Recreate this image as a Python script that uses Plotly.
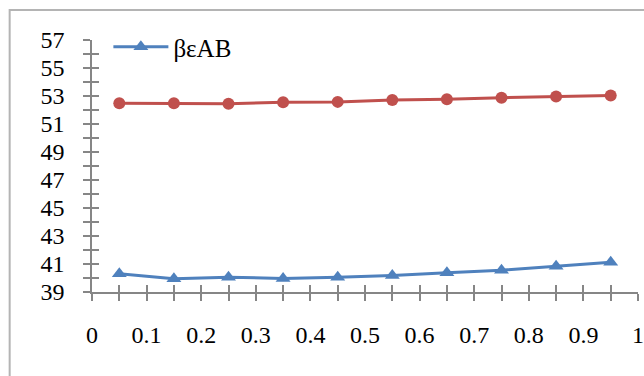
import plotly.graph_objects as go

# Data
x_vals = [0.05, 0.15, 0.25, 0.35, 0.45, 0.55, 0.65, 0.75, 0.85, 0.95]
beta_eps_ab = [40.30, 39.95, 40.05, 39.97, 40.05, 40.18, 40.37, 40.56, 40.84, 41.13]
upper_series = [52.49, 52.49, 52.45, 52.56, 52.58, 52.72, 52.77, 52.88, 52.96, 53.03]

# Axis ticks and labels
y_tick_vals = [39, 40, 41, 42, 43, 44, 45, 46, 47, 48, 49, 50, 51, 52, 53, 54, 55, 56, 57]
y_tick_text = ["39", "", "41", "", "43", "", "45", "", "47", "", "49", "", "51", "", "53", "", "55", "", "57"]
x_tick_vals = [0, 0.05, 0.1, 0.15, 0.2, 0.25, 0.3, 0.35, 0.4, 0.45, 0.5,
               0.55, 0.6, 0.65, 0.7, 0.75, 0.8, 0.85, 0.9, 0.95, 1.0]
x_tick_text = ["0", "", "0.1", "", "0.2", "", "0.3", "", "0.4", "", "0.5",
               "", "0.6", "", "0.7", "", "0.8", "", "0.9", "", "1"]

BLUE = "#4F81BD"
RED = "#C0504D"
AXIS = "#868686"
FONT = "Liberation Serif"

fig = go.Figure()

fig.add_trace(go.Scatter(
    x=x_vals, y=beta_eps_ab, name="βεAB", mode="lines+markers",
    line=dict(color=BLUE, width=3),
    marker=dict(symbol="triangle-up", size=13, color=BLUE),
    xaxis="x", yaxis="y",
))
fig.add_trace(go.Scatter(
    x=x_vals, y=upper_series, name="βεAA", mode="lines+markers",
    line=dict(color=RED, width=3),
    marker=dict(symbol="circle", size=12, color=RED),
    showlegend=False, xaxis="x2", yaxis="y2",
))

# Primary axes carry the outside tick halves and labels; the overlaid pair
# adds the inside halves so each tick crosses the axis line.
common_x = dict(range=[0, 1], tickvals=x_tick_vals, showgrid=False, zeroline=False,
                ticklen=7, tickwidth=1.5, tickcolor=AXIS, automargin=False)
common_y = dict(range=[39, 57], tickvals=y_tick_vals, showgrid=False, zeroline=False,
                ticklen=7, tickwidth=1.5, tickcolor=AXIS, automargin=False)

fig.update_layout(
    width=644, height=376,
    margin=dict(l=91.5, r=5.5, t=40, b=83.5),
    paper_bgcolor="white", plot_bgcolor="white",
    font=dict(family=FONT, size=24, color="black"),
    showlegend=True,
    legend=dict(x=0.03, y=0.972, xanchor="left", yanchor="middle",
                bgcolor="rgba(0,0,0,0)", font=dict(family=FONT, size=25, color="black"),
                itemwidth=55),
    xaxis=dict(**common_x, ticktext=x_tick_text, ticks="outside",
               showline=True, linecolor=AXIS, linewidth=1.5,
               ticklabelstandoff=13),
    yaxis=dict(**common_y, ticktext=y_tick_text, ticks="outside",
               showline=True, linecolor=AXIS, linewidth=1.5,
               ticklabelstandoff=14),
    xaxis2=dict(**common_x, overlaying="x", anchor="y2", side="bottom",
                ticks="inside", showticklabels=False, showline=False),
    yaxis2=dict(**common_y, overlaying="y", anchor="x2", side="left",
                ticks="inside", showticklabels=False, showline=False),
    # chart frame: left and top edges (the rest lies outside the canvas)
    shapes=[dict(type="path", xref="paper", yref="paper",
                 path="M -0.1508,-0.6 L -0.1508,1.1188 L 1.2,1.1188",
                 line=dict(color="#b4b4b4", width=2), layer="below")],
)

fig.write_html("out.html")
